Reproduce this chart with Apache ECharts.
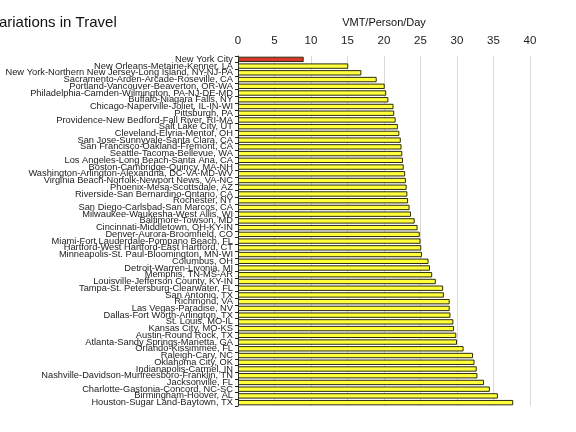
<!DOCTYPE html>
<html>
<head>
<meta charset="utf-8">
<script src="https://cdn.jsdelivr.net/npm/echarts@6/dist/echarts.min.js"></script>
<style>
html,body{margin:0;padding:0;background:#fff;}
#chart{width:576px;height:432px;}
</style>
</head>
<body>
<div id="chart"></div>
<script>
const categories = [
  "New York City",
  "New Orleans-Metairie-Kenner, LA",
  "New York-Northern New Jersey-Long Island, NY-NJ-PA",
  "Sacramento-Arden-Arcade-Roseville, CA",
  "Portland-Vancouver-Beaverton, OR-WA",
  "Philadelphia-Camden-Wilmington, PA-NJ-DE-MD",
  "Buffalo-Niagara Falls, NY",
  "Chicago-Naperville-Joliet, IL-IN-WI",
  "Pittsburgh, PA",
  "Providence-New Bedford-Fall River, RI-MA",
  "Salt Lake City, UT",
  "Cleveland-Elyria-Mentor, OH",
  "San Jose-Sunnyvale-Santa Clara, CA",
  "San Francisco-Oakland-Fremont, CA",
  "Seattle-Tacoma-Bellevue, WA",
  "Los Angeles-Long Beach-Santa Ana, CA",
  "Boston-Cambridge-Quincy, MA-NH",
  "Washington-Arlington-Alexandria, DC-VA-MD-WV",
  "Virginia Beach-Norfolk-Newport News, VA-NC",
  "Phoenix-Mesa-Scottsdale, AZ",
  "Riverside-San Bernardino-Ontario, CA",
  "Rochester, NY",
  "San Diego-Carlsbad-San Marcos, CA",
  "Milwaukee-Waukesha-West Allis, WI",
  "Baltimore-Towson, MD",
  "Cincinnati-Middletown, OH-KY-IN",
  "Denver-Aurora-Broomfield, CO",
  "Miami-Fort Lauderdale-Pompano Beach, FL",
  "Hartford-West Hartford-East Hartford, CT",
  "Minneapolis-St. Paul-Bloomington, MN-WI",
  "Columbus, OH",
  "Detroit-Warren-Livonia, MI",
  "Memphis, TN-MS-AR",
  "Louisville-Jefferson County, KY-IN",
  "Tampa-St. Petersburg-Clearwater, FL",
  "San Antonio, TX",
  "Richmond, VA",
  "Las Vegas-Paradise, NV",
  "Dallas-Fort Worth-Arlington, TX",
  "St. Louis, MO-IL",
  "Kansas City, MO-KS",
  "Austin-Round Rock, TX",
  "Atlanta-Sandy Springs-Marietta, GA",
  "Orlando-Kissimmee, FL",
  "Raleigh-Cary, NC",
  "Oklahoma City, OK",
  "Indianapolis-Carmel, IN",
  "Nashville-Davidson-Murfreesboro-Franklin, TN",
  "Jacksonville, FL",
  "Charlotte-Gastonia-Concord, NC-SC",
  "Birmingham-Hoover, AL",
  "Houston-Sugar Land-Baytown, TX"
];

const vmtPerPersonPerDay = [
  9.0, 15.1, 16.9, 19.0, 20.1, 20.3, 20.6, 21.3, 21.4, 21.6,
  21.9, 22.1, 22.3, 22.4, 22.5, 22.6, 22.7, 22.9, 23.0, 23.1,
  23.2, 23.3, 23.5, 23.7, 24.2, 24.6, 24.9, 25.0, 25.1, 25.2,
  26.1, 26.3, 26.6, 27.1, 28.1, 28.2, 29.0, 29.0, 29.1, 29.5,
  29.6, 29.9, 30.0, 30.9, 32.2, 32.4, 32.7, 32.8, 33.7, 34.5,
  35.6, 37.7
];

const highlightCategory = "New York City";
const xTicks = [0, 5, 10, 15, 20, 25, 30, 35, 40];
const titleText = "Variations in Travel";
const axisTitle = "VMT/Person/Day";

const FONT = "'Liberation Sans', Arial, sans-serif";
const chart = echarts.init(document.getElementById('chart'), null, {renderer: 'canvas'});

chart.setOption({
  animation: false,
  backgroundColor: '#ffffff',
  title: {
    text: titleText,
    left: -10,
    top: 15,
    padding: 0,
    textStyle: {fontFamily: FONT, fontSize: 15, fontWeight: 'normal', color: '#111'}
  },
  grid: {left: 238, right: 46, top: 56, bottom: 26, containLabel: false, outerBoundsMode: 'none'},
  xAxis: {
    type: 'value',
    position: 'top',
    min: xTicks[0],
    max: xTicks[xTicks.length - 1],
    interval: xTicks[1] - xTicks[0],
    name: axisTitle,
    nameLocation: 'middle',
    nameGap: 28,
    nameTextStyle: {fontFamily: FONT, fontSize: 11, color: '#111'},
    axisLine: {show: false},
    axisTick: {show: false},
    axisLabel: {fontFamily: FONT, fontSize: 11.5, color: '#222', margin: 9},
    splitLine: {show: true, lineStyle: {color: '#d9d9d9', width: 1}}
  },
  yAxis: {
    type: 'category',
    inverse: true,
    data: categories,
    axisLine: {show: true, lineStyle: {color: '#222', width: 1}},
    axisTick: {show: true, length: 3, lineStyle: {color: '#222'}},
    axisLabel: {interval: 0, fontFamily: FONT, fontSize: 9.3, color: '#222', margin: 5},
    splitLine: {show: false}
  },
  series: [{
    type: 'bar',
    data: vmtPerPersonPerDay,
    barCategoryGap: '20%',
    itemStyle: {
      color: function (p) {
        return categories[p.dataIndex] === highlightCategory ? '#d9362a' : '#ffff3c';
      },
      borderColor: '#2b2b10',
      borderWidth: 1
    }
  }]
});
</script>
</body>
</html>
